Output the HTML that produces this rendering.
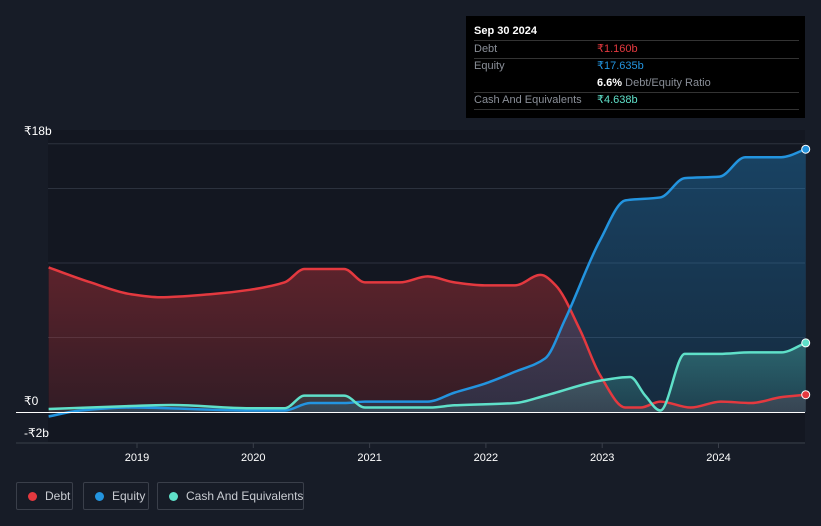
<!DOCTYPE html>
<html><head><meta charset="utf-8"><style>
body{margin:0;background:#171c27;font-family:"Liberation Sans","Noto Sans CJK SC",sans-serif;}
#wrap{position:relative;width:821px;height:526px;overflow:hidden;background:#171c27}
svg{position:absolute;left:0;top:0}
.tt{position:absolute;left:466px;top:16px;width:339px;height:102px;background:#000;color:#fff;font-size:11px}
.tt .r{position:absolute;left:8px;right:6px;height:17px;border-bottom:1px solid #333;line-height:17px;color:#8a8f98}
.tt .v{position:absolute;left:123px}
.leg{position:absolute;top:482px;height:28px;border:1px solid #3a3f4a;border-radius:2px;color:#c9ccd2;font-size:12px;line-height:26px;box-sizing:border-box;white-space:nowrap}
.leg i{position:absolute;left:11px;top:9px;width:9px;height:9px;border-radius:50%}
</style></head><body>
<div id="wrap">
<svg id="svg" width="821" height="526"></svg>
<div class="tt">
 <div class="r" style="top:7px;color:#fff;font-weight:bold;border-bottom:1px solid #333">Sep 30 2024</div>
 <div class="r" style="top:25px">Debt<span class="v" style="color:#e4393f">₹1.160b</span></div>
 <div class="r" style="top:42px;border:none">Equity<span class="v" style="color:#2394df">₹17.635b</span></div>
 <div class="r" style="top:59px"><span class="v" style="color:#8a8f98"><b style="color:#fff">6.6%</b> Debt/Equity Ratio</span></div>
 <div class="r" style="top:76px">Cash And Equivalents<span class="v" style="color:#5fe0c9">₹4.638b</span></div>
</div>
<div class="leg" style="left:16px;width:57px;padding-left:28px"><i style="background:#e4393f"></i>Debt</div>
<div class="leg" style="left:83px;width:66px;padding-left:28px"><i style="background:#2394df"></i>Equity</div>
<div class="leg" style="left:157px;width:147px;padding-left:28px"><i style="background:#5fe0c9"></i>Cash And Equivalents</div>
</div>
<script>
const yTicks=[0,18,-2];
const yTickLabels=["₹0","₹18b","-₹2b"];
const xYears=[2019,2020,2021,2022,2023,2024];
const debtX=[2018.24,2018.6,2018.95,2019.2,2019.63,2019.97,2020.27,2020.44,2020.78,2020.96,2021.26,2021.5,2021.73,2021.99,2022.25,2022.47,2022.6,2022.81,2022.98,2023.2,2023.33,2023.5,2023.76,2024.02,2024.28,2024.54,2024.75];
const debtV=[9.7,8.7,7.9,7.7,7.9,8.2,8.7,9.6,9.6,8.7,8.7,9.1,8.7,8.5,8.5,9.2,8.5,5.5,2.5,0.3,0.3,0.7,0.3,0.7,0.6,1.0,1.16];
const eqX=[2018.24,2018.51,2018.95,2019.97,2020.27,2020.49,2020.78,2020.96,2021.5,2021.73,2021.99,2022.25,2022.51,2022.68,2022.98,2023.2,2023.5,2023.71,2024.01,2024.23,2024.54,2024.75];
const eqV=[-0.3,0.1,0.3,0.1,0.1,0.6,0.6,0.7,0.7,1.3,1.9,2.7,3.6,6.2,11.5,14.2,14.4,15.7,15.8,17.1,17.1,17.635];
const cashX=[2018.24,2018.95,2019.3,2019.97,2020.27,2020.44,2020.78,2020.96,2021.52,2021.73,2022.25,2022.51,2022.98,2023.24,2023.37,2023.5,2023.71,2024.01,2024.27,2024.54,2024.75];
const cashV=[0.2,0.4,0.47,0.25,0.25,1.1,1.1,0.3,0.3,0.45,0.6,1.1,2.1,2.35,1.1,0.1,3.9,3.9,4.0,4.0,4.638];

const NS="http://www.w3.org/2000/svg",svg=document.getElementById('svg');
const X=yr=>137+(yr-2019)*116.3, Y=v=>412-v*14.9;
function el(t,a,p){const e=document.createElementNS(NS,t);for(const k in a)e.setAttribute(k,a[k]);(p||svg).appendChild(e);return e;}
function path(xs,vs){
 const P=xs.map((x,i)=>[X(x),Y(vs[i])]),n=P.length,m=[],d=[];
 for(let i=0;i<n-1;i++)d.push((P[i+1][1]-P[i][1])/(P[i+1][0]-P[i][0]));
 for(let i=0;i<n;i++){if(i==0)m.push(d[0]);else if(i==n-1)m.push(d[n-2]);else m.push(d[i-1]*d[i]<=0?0:2/(1/d[i-1]+1/d[i]));}
 let s=`M${P[0][0]},${P[0][1]}`;
 for(let i=0;i<n-1;i++){const h=(P[i+1][0]-P[i][0])/3;s+=`C${P[i][0]+h},${P[i][1]+m[i]*h} ${P[i+1][0]-h},${P[i+1][1]-m[i+1]*h} ${P[i+1][0]},${P[i+1][1]}`;}
 return s;}
const bg=el('rect',{x:48,y:130,width:757,height:312,fill:'#131721'});

[5,10,15,18].forEach(v=>{const g=el('line',{x1:48,x2:805,y1:Y(v),y2:Y(v),stroke:'#2c323e','stroke-width':1});
});
const defs=el('defs',{});
function grad(id,c,o1,o2){const g=el('linearGradient',{id,x1:0,y1:0,x2:0,y2:1},defs);el('stop',{offset:0,'stop-color':c,'stop-opacity':o1},g);el('stop',{offset:1,'stop-color':c,'stop-opacity':o2},g);}
grad('gd','#e4393f',0.35,0.15);grad('ge','#2394df',0.35,0.15);grad('gc','#5fe0c9',0.3,0.12);
const series=[[debtX,debtV,'#e4393f','gd','debt'],[eqX,eqV,'#2394df','ge','equity'],[cashX,cashV,'#5fe0c9','gc','cash']];
series.forEach(([xs,vs,c,g,n])=>{const d=path(xs,vs);
 const a=el('path',{d:d+`L${X(xs[xs.length-1])},${Y(0)}L${X(xs[0])},${Y(0)}Z`,fill:`url(#${g})`});
 });
series.forEach(([xs,vs,c,g,n])=>{const l=el('path',{d:path(xs,vs),fill:'none',stroke:c,'stroke-width':2.5});
 
 const p=el('circle',{cx:X(xs[xs.length-1]),cy:Y(vs[vs.length-1]),r:4,fill:c,stroke:'#fff','stroke-width':1});
 });
const ax=el('line',{x1:16,x2:805,y1:Y(0)+0.5,y2:Y(0)+0.5,stroke:'#fff','stroke-width':1});

const xa=el('line',{x1:16,x2:805,y1:443,y2:443,stroke:'#3a3f4a'});

yTicks.forEach((v,i)=>{const t=el('text',{x:24,y:Y(v)+(v==18?-9:v==0?-7:-5),fill:'#fff','font-size':12});t.textContent=yTickLabels[i];
});
xYears.forEach(y=>{const k=el('line',{x1:X(y),x2:X(y),y1:443,y2:448,stroke:'#3a3f4a'});

const t=el('text',{x:X(y),y:461,fill:'#fff','font-size':11,'text-anchor':'middle'});t.textContent=y;
});
</script>
</body></html>
